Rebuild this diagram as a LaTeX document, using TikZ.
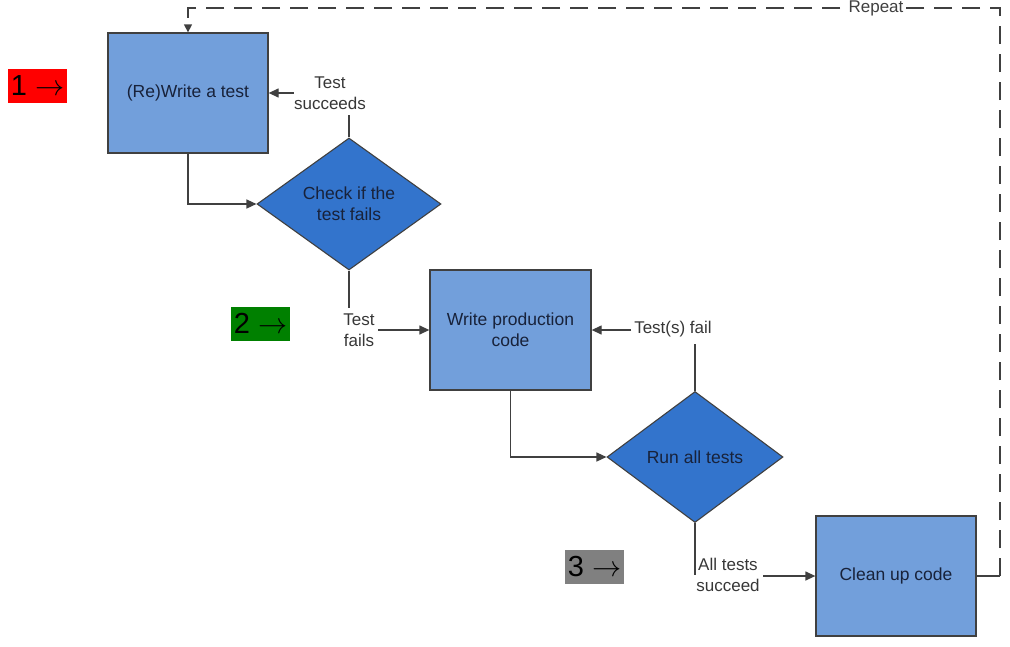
\documentclass[tikz,border=0pt]{standalone}
\usepackage{fontspec}
\setmainfont{Liberation Sans}
\usetikzlibrary{shapes.geometric,arrows.meta}
\definecolor{boxfill}{RGB}{114,159,219}
\definecolor{diafill}{RGB}{51,116,204}
\definecolor{txtnavy}{RGB}{24,34,58}
\definecolor{lblgray}{RGB}{55,55,55}
\definecolor{edgegray}{RGB}{64,64,64}
\definecolor{markgreen}{RGB}{0,128,0}
\definecolor{markgray}{RGB}{128,128,128}
\newcommand{\markarrow}{\scalebox{1.17}{$\rightarrow$}}
\tikzset{
  stepbox/.style={draw=edgegray, line width=1.3pt, fill=boxfill, minimum width=160pt, minimum height=120pt, inner sep=0pt, align=center, text=txtnavy, font=\fontsize{17.5}{21}\selectfont},
  decision/.style={diamond, draw=edgegray, line width=1.1pt, fill=diafill, inner sep=0pt, align=center, text=txtnavy, font=\fontsize{17.5}{21}\selectfont},
  lbl/.style={inner sep=0pt, align=center, text=lblgray, font=\fontsize{17}{21}\selectfont},
  conn/.style={draw=edgegray, line width=1.3pt},
  arr/.style={conn, -{Triangle[length=10pt,width=9pt]}},
  marker/.style={minimum width=59pt, minimum height=34pt, inner sep=0pt, text=black, font=\fontsize{29}{34}\selectfont},
  repeatline/.style={draw=edgegray, line width=1.3pt, dash pattern=on 18pt off 10pt}
}
\begin{document}
\begin{tikzpicture}[x=1pt,y=-1pt]
\useasboundingbox (0,0) rectangle (1010,646);

% markers
\node[marker, fill=red] (m1) at (37.5,85.5) {1 \markarrow};
\node[marker, fill=markgreen] (m2) at (260.5,323.5) {2 \markarrow};
\node[marker, fill=markgray] (m3) at (594.5,566.5) {3 \markarrow};

% main steps
\node[stepbox] (b1) at (188,93) {(Re)Write a test};
\node[decision, minimum width=184pt, minimum height=132pt] (d1) at (349,204) {Check if the\\test fails};
\node[stepbox, minimum width=161pt] (b2) at (510.5,330) {Write production\\code};
\node[decision, minimum width=176pt, minimum height=131pt] (d2) at (695,457) {Run all tests};
\node[stepbox] (b3) at (896,576) {Clean up code};

% labels
\node[lbl] (lsucc) at (330,93) {Test\\succeeds};
\node[lbl] (lfail) at (359,330) {Test\\fails};
\node[lbl] (lfails) at (673,329) {Test(s) fail};
\node[lbl] (lall) at (728,575) {All tests\\succeed};

% coordinates
\coordinate (c1) at (349,115);
\coordinate (c2) at (349,308);
\coordinate (c2a) at (378,330);
\coordinate (c3) at (695,344);
\coordinate (c3a) at (631,330);
\coordinate (c4) at (695,575);
\coordinate (c4a) at (763,576);
\coordinate (r1) at (1000,576);
\coordinate (r2) at (1000,8);
\coordinate (r3) at (188,8);

% connectors
\draw[arr] (b1.south) |- (d1.west);
\draw[conn] (d1.north) -- (c1);
\draw[arr] (lsucc.west |- b1.east) -- (b1.east);
\draw[conn] (d1.south) -- (c2);
\draw[arr] (c2a) -- (b2.west |- c2a);
\draw[arr] (b2.south) |- (d2.west);
\draw[conn] (d2.north) -- (c3);
\draw[arr] (c3a) -- (b2.east |- c3a);
\draw[conn] (d2.south) -- (c4);
\draw[arr] (c4a) -- (b3.west |- c4a);

% repeat loop
\draw[conn] (b3.east) -- (r1);
\draw[repeatline, -{Triangle[length=8pt,width=8pt]}] (r1) -- (r2) -- (r3) -- (b1.north);
\node[lbl, fill=white, inner xsep=0pt, inner ysep=2pt, text=edgegray] (lrep) at (876,8.5) {Repeat};
\end{tikzpicture}
\end{document}
